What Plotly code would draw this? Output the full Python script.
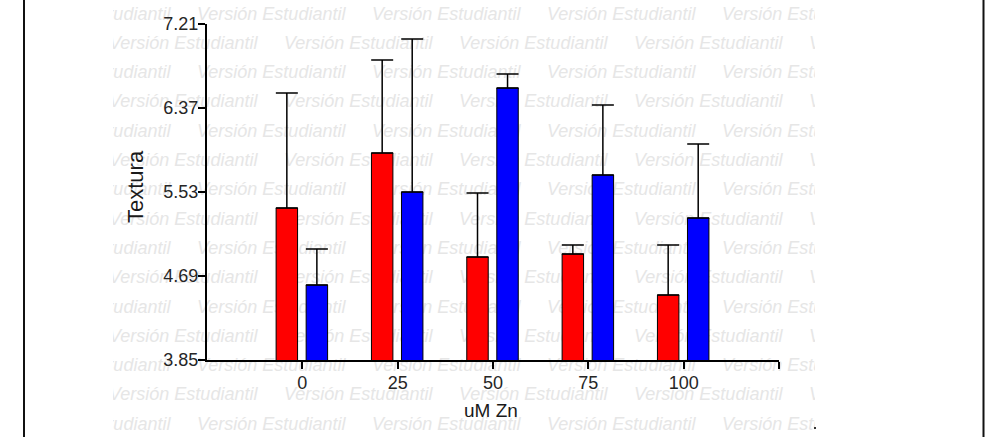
import plotly.graph_objects as go

# Datos: textura por concentración de Zn
dosis = ["0", "25", "50", "75", "100"]
serie_roja = [5.37, 5.92, 4.88, 4.91, 4.50]
error_rojo = [1.15, 0.93, 0.64, 0.09, 0.50]
serie_azul = [4.60, 5.53, 6.57, 5.70, 5.27]
error_azul = [0.36, 1.53, 0.14, 0.70, 0.74]
ticks_y = [3.85, 4.69, 5.53, 6.37, 7.21]

W, H = 990, 437
# área de papel (donde cae la marca de agua)
PX0, PX1 = 113, 815
PY0, PY1 = 0, 437


def fx(px):
    return (px - PX0) / (PX1 - PX0)


def fy(py):
    return (PY1 - py) / (PY1 - PY0)


FONT = "Liberation Sans, Arial, sans-serif"

fig = go.Figure()

# Marca de agua repetida en filas alternas
wm_x, wm_y = [], []
periodo = 175
for fila in range(15):
    yc = 15 + 29.3 * fila
    inicio = 22 if fila % 2 == 0 else 109
    x = inicio
    while x < PX1:
        wm_x.append(x)
        wm_y.append(yc)
        x += periodo
fig.add_trace(go.Scatter(
    x=wm_x, y=wm_y, mode="text",
    text=["Versión Estudiantil"] * len(wm_x),
    textposition="middle right",
    textfont=dict(family=FONT, size=18, color="#e6e6e6", style="italic"),
    cliponaxis=True, hoverinfo="skip", showlegend=False,
    xaxis="x", yaxis="y",
))

x_idx = list(range(len(dosis)))
fig.add_trace(go.Bar(
    x=x_idx, y=serie_roja, name="Serie 1",
    width=0.225, offset=-0.275,
    marker=dict(color="#ff0000", line=dict(color="#000000", width=1)),
    error_y=dict(type="data", array=error_rojo, arrayminus=[0] * 5,
                 symmetric=False, color="#000000", thickness=1.5, width=11),
    xaxis="x2", yaxis="y2", showlegend=False,
))
fig.add_trace(go.Bar(
    x=x_idx, y=serie_azul, name="Serie 2",
    width=0.225, offset=0.04,
    marker=dict(color="#0000ff", line=dict(color="#000000", width=1)),
    error_y=dict(type="data", array=error_azul, arrayminus=[0] * 5,
                 symmetric=False, color="#000000", thickness=1.5, width=11),
    xaxis="x2", yaxis="y2", showlegend=False,
))

tick_font = dict(family=FONT, size=18, color="#262626")

fig.update_layout(
    width=W, height=H,
    margin=dict(l=PX0, r=W - PX1, t=PY0, b=H - PY1, pad=0, autoexpand=False),
    paper_bgcolor="white",
    plot_bgcolor="rgba(0,0,0,0)",
    barmode="overlay",
    showlegend=False,
    xaxis=dict(domain=[0, 1], range=[PX0, PX1], visible=False, fixedrange=True),
    yaxis=dict(domain=[0, 1], range=[PY1, PY0], visible=False, fixedrange=True),
    xaxis2=dict(
        domain=[fx(207), fx(779)], anchor="y2",
        range=[-1, 5],
        tickvals=x_idx + [5], ticktext=dosis + [""],
        showline=True, linecolor="#000000", linewidth=2,
        ticks="outside", ticklen=7, tickwidth=1.5, tickcolor="#000000",
        showgrid=False, zeroline=False, tickfont=tick_font,
        ticklabelstandoff=-2,
    ),
    yaxis2=dict(
        domain=[fy(360), fy(24)], anchor="x2",
        range=[3.85, 7.21],
        tickvals=ticks_y, ticktext=[f"{v:.2f}" for v in ticks_y],
        showline=True, linecolor="#000000", linewidth=2,
        ticks="outside", ticklen=7, tickwidth=1.5, tickcolor="#000000",
        showgrid=False, zeroline=False, tickfont=tick_font,
        ticklabelstandoff=-4,
    ),
    annotations=[
        dict(text="Textura", xref="paper", yref="paper",
             x=fx(136), y=fy(187), textangle=-90, showarrow=False,
             xanchor="center", yanchor="middle",
             font=dict(family=FONT, size=22, color="#1a1a1a")),
        dict(text="uM Zn", xref="paper", yref="paper",
             x=fx(491), y=fy(410), showarrow=False,
             xanchor="center", yanchor="middle",
             font=dict(family=FONT, size=19, color="#1a1a1a")),
    ],
    shapes=[
        dict(type="line", xref="paper", yref="paper",
             x0=fx(24), x1=fx(24), y0=fy(0), y1=fy(437),
             line=dict(color="#111111", width=2)),
        dict(type="line", xref="paper", yref="paper",
             x0=fx(983.5), x1=fx(983.5), y0=fy(0), y1=fy(437),
             line=dict(color="#111111", width=2)),
        dict(type="rect", xref="paper", yref="paper",
             x0=fx(814), x1=fx(816), y0=fy(429), y1=fy(427),
             fillcolor="#333333", line=dict(width=0)),
    ],
)

fig.write_html("out.html")
